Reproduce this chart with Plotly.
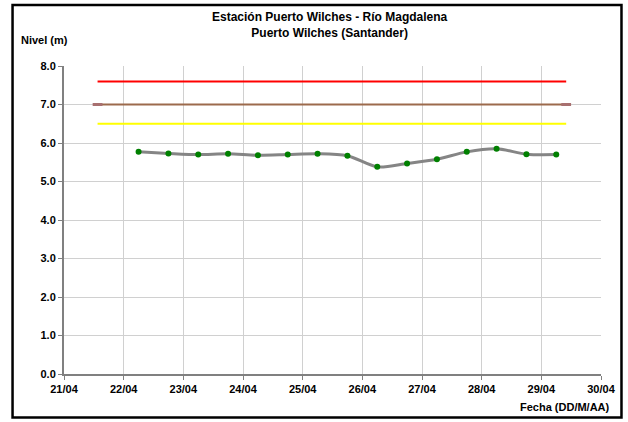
import plotly.graph_objects as go

# Niveles observados (cada 12 h)
fechas = [
    "2023-04-22 06:00", "2023-04-22 18:00", "2023-04-23 06:00", "2023-04-23 18:00",
    "2023-04-24 06:00", "2023-04-24 18:00", "2023-04-25 06:00", "2023-04-25 18:00",
    "2023-04-26 06:00", "2023-04-26 18:00", "2023-04-27 06:00", "2023-04-27 18:00",
    "2023-04-28 06:00", "2023-04-28 18:00", "2023-04-29 06:00",
]
nivel = [5.77, 5.73, 5.70, 5.72, 5.68, 5.70, 5.72, 5.67, 5.38, 5.47, 5.58, 5.77, 5.85, 5.71, 5.70]

# Umbrales
umbral_fechas = ["2023-04-21 13:30", "2023-04-29 10:00"]
umbral_rojo = [7.6, 7.6]
umbral_cafe = [7.0, 7.0]
umbral_amarillo = [6.5, 6.5]

x_ticks = ["2023-04-%02d" % d for d in range(21, 31)]
y_ticks = [0, 1, 2, 3, 4, 5, 6, 7, 8]

fig = go.Figure()

fig.add_trace(go.Scatter(x=umbral_fechas, y=umbral_rojo, mode="lines",
                         line=dict(color="#FF0000", width=2), hoverinfo="skip"))
fig.add_trace(go.Scatter(x=umbral_fechas, y=umbral_cafe, mode="lines+markers",
                         line=dict(color="#9C6A4C", width=2),
                         marker=dict(symbol="line-ew", size=7, line=dict(color="#A87070", width=3)),
                         hoverinfo="skip"))
fig.add_trace(go.Scatter(x=umbral_fechas, y=umbral_amarillo, mode="lines",
                         line=dict(color="#FFFF00", width=2), hoverinfo="skip"))
fig.add_trace(go.Scatter(x=fechas, y=nivel, mode="lines+markers",
                         line=dict(color="#858585", width=3, shape="spline", smoothing=0.8),
                         marker=dict(color="#008000", size=6)))

W = 601 - 63.5
H = 374 - 66


def px(x):
    return (x - 63.5) / W


def py(y):
    return (374 - y) / H


fig.add_shape(type="rect", xref="paper", yref="paper",
              x0=px(12), x1=px(621.5), y0=py(417.5), y1=py(5),
              line=dict(color="black", width=2.5), layer="above")

tick_font = dict(family="Arial", size=11, color="black", weight="bold")

fig.update_xaxes(
    type="date", range=["2023-04-21", "2023-04-30"],
    tickvals=x_ticks, tickformat="%d/%m", tickfont=tick_font,
    showgrid=True, gridcolor="#D0D0D0", gridwidth=1,
    showline=True, linecolor="#808080", linewidth=2,
    ticks="outside", ticklen=4, tickcolor="#808080", tickwidth=1,
    zeroline=False, mirror=False,
)
fig.update_yaxes(
    range=[0, 8], tickvals=y_ticks, tickformat=".1f", tickfont=tick_font,
    showgrid=True, gridcolor="#D0D0D0", gridwidth=1,
    showline=True, linecolor="#808080", linewidth=2,
    ticks="outside", ticklen=4, tickcolor="#808080", tickwidth=1,
    zeroline=False,
)

fig.add_annotation(text="<b>Estación Puerto Wilches - Río Magdalena<br>Puerto Wilches (Santander)</b>",
                   xref="paper", yref="paper", x=px(330), y=py(25.5),
                   xanchor="center", yanchor="middle", showarrow=False,
                   font=dict(family="Arial", size=12, color="black"))
fig.add_annotation(text="<b>Nivel (m)</b>", xref="paper", yref="paper",
                   x=px(18), y=py(40), xanchor="left", yanchor="middle",
                   showarrow=False, font=dict(family="Arial", size=11, color="black"))
fig.add_annotation(text="<b>Fecha (DD/M/AA)</b>", xref="paper", yref="paper",
                   x=px(612), y=py(407), xanchor="right", yanchor="middle",
                   showarrow=False, font=dict(family="Arial", size=11, color="black"))

fig.update_layout(
    width=628, height=422,
    margin=dict(l=63.5, r=27, t=66, b=48),
    plot_bgcolor="white", paper_bgcolor="white",
    showlegend=False,
)

fig.write_html("out.html", config={"displayModeBar": False},
               post_script="document.body.style.margin='0px';")
